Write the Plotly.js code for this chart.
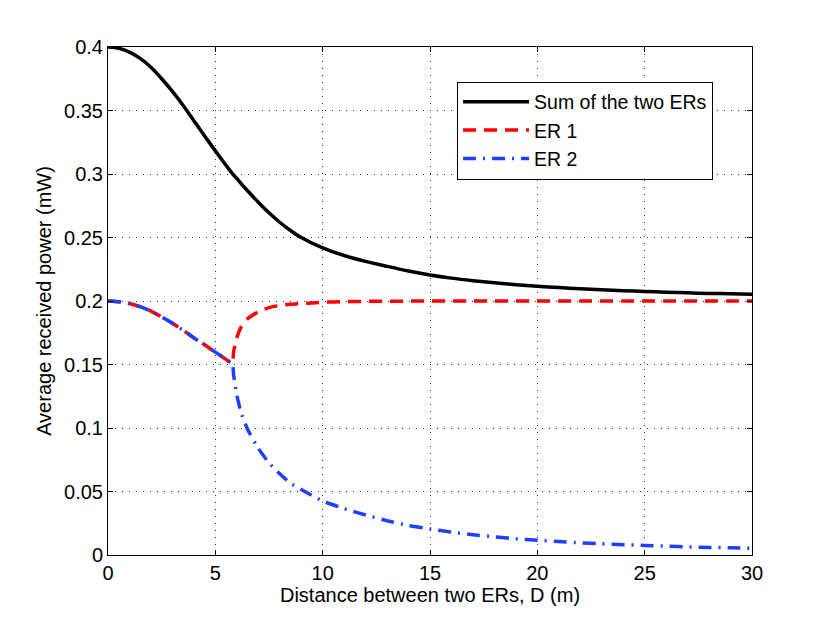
<!DOCTYPE html>
<html>
<head>
<meta charset="utf-8">
<script src="https://cdn.plot.ly/plotly-3.0.1.min.js"></script>
<style>
  body { margin: 0; background: #fff; }
  #myPlot { width: 830px; height: 624px; }
</style>
</head>
<body>
<div id="myPlot"></div>
<script>
// distance D (m)
let dist = [0, 0.5, 1, 1.5, 2, 2.5, 3, 3.5, 4, 4.5, 5, 5.5, 5.8, 5.85, 6, 6.2, 6.5, 7, 7.5, 8, 8.5, 9,
  10, 11, 12, 13, 14, 15, 16, 17, 18, 19, 20, 21, 22, 23, 24, 25, 26, 27, 28, 29, 30];

let sumPow = [0.4, 0.399, 0.396, 0.391, 0.384, 0.375, 0.365, 0.354, 0.342, 0.330, 0.3182, 0.3068, 0.3002, 0.2992,
  0.2965, 0.2925, 0.2868, 0.2778, 0.2695, 0.262, 0.2555, 0.25,
  0.2418, 0.2358, 0.2312, 0.2273, 0.2236, 0.2205, 0.218, 0.216, 0.2143, 0.2128, 0.2116, 0.2106, 0.2096,
  0.2088, 0.2081, 0.2075, 0.2069, 0.2064, 0.206, 0.2057, 0.2053];

let er1 = [0.2, 0.1995, 0.198, 0.1955, 0.192, 0.1875, 0.1825, 0.177, 0.171, 0.1655, 0.1597, 0.154, 0.1505, 0.16,
  0.171, 0.1795, 0.186, 0.1915, 0.1948, 0.1965, 0.1975, 0.198,
  0.199, 0.1995, 0.1997, 0.1998, 0.1999, 0.2, 0.2, 0.2, 0.2, 0.2, 0.2, 0.2, 0.2,
  0.2, 0.2, 0.2, 0.2, 0.2, 0.2, 0.2, 0.2];

let er2 = [0.2, 0.1995, 0.198, 0.1955, 0.192, 0.1875, 0.1825, 0.177, 0.171, 0.1655, 0.1597, 0.154, 0.1505, 0.142,
  0.126, 0.112, 0.099, 0.084, 0.0725, 0.064, 0.0565, 0.0515,
  0.0425, 0.0365, 0.0315, 0.027, 0.0232, 0.0205, 0.018, 0.016, 0.0143, 0.0128, 0.0116, 0.0106, 0.0096,
  0.0088, 0.0081, 0.0075, 0.0069, 0.0064, 0.006, 0.0057, 0.0053];

let xTicks = [0, 5, 10, 15, 20, 25, 30];
let yTicks = [0, 0.05, 0.1, 0.15, 0.2, 0.25, 0.3, 0.35, 0.4];
let yLabels = ['0', '0.05', '0.1', '0.15', '0.2', '0.25', '0.3', '0.35', '0.4'];

var fnt = 'Liberation Sans, Arial';

var trace1 = {
  x: dist, y: sumPow, name: 'Sum of the two ERs', type: 'scatter', mode: 'lines',
  line: { color: '#000000', width: 3.5, shape: 'spline', smoothing: 0.8 }
};
var trace2 = {
  x: dist, y: er1, name: 'ER 1', type: 'scatter', mode: 'lines',
  line: { color: '#ff0000', width: 3.5, dash: '13px,8px', shape: 'spline', smoothing: 0.4 }
};
var trace3 = {
  x: dist, y: er2, name: 'ER 2', type: 'scatter', mode: 'lines',
  line: { color: '#1f3fff', width: 3.5, dash: '13px,7px,2px,7px', shape: 'spline', smoothing: 0.4 }
};

var axisBase = {
  showline: true, linecolor: '#000', linewidth: 1, mirror: 'allticks',
  ticks: 'inside', ticklen: 5, tickcolor: '#000',
  showgrid: true, gridcolor: '#333', griddash: '1px,6px', gridwidth: 1,
  zeroline: false, tickfont: { family: fnt, size: 20, color: '#000' }
};

var layout = {
  width: 830, height: 624,
  margin: { l: 108, r: 78, t: 47, b: 69 },
  paper_bgcolor: '#fff', plot_bgcolor: '#fff',
  showlegend: true,
  font: { family: fnt, size: 20, color: '#000' },
  xaxis: Object.assign({}, axisBase, {
    range: [0, 30], tickvals: xTicks,
    title: { text: 'Distance between two ERs, D (m)', font: { size: 20 }, standoff: 3 }
  }),
  yaxis: Object.assign({}, axisBase, {
    range: [0, 0.4], tickvals: yTicks, ticktext: yLabels,
    title: { text: 'Average received power (mW)', font: { size: 20 }, standoff: 7 }
  }),
  legend: {
    x: 0.542, y: 0.932, xanchor: 'left', yanchor: 'top',
    bordercolor: '#000', borderwidth: 1, bgcolor: '#fff',
    font: { family: fnt, size: 19.5, color: '#000' },
    itemwidth: 66, tracegroupgap: 0
  }
};

Plotly.newPlot('myPlot', [trace1, trace2, trace3], layout, { displayModeBar: false, staticPlot: true });
</script>
</body>
</html>
